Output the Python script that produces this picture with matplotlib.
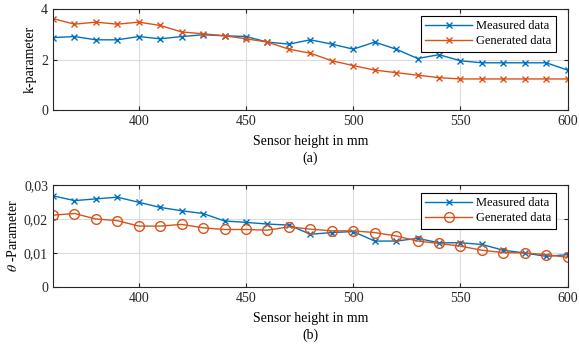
import matplotlib.pyplot as plt
import matplotlib.ticker as mticker
import numpy as np

plt.rcParams['font.family'] = ['Liberation Serif', 'DejaVu Serif']
plt.rcParams['font.size'] = 10
plt.rcParams['mathtext.fontset'] = 'stix'

height = np.arange(360, 601, 10)

k_measured = [2.87, 2.91, 2.78, 2.78, 2.91, 2.82, 2.91, 2.98, 2.94, 2.91, 2.69, 2.61,
              2.78, 2.61, 2.41, 2.69, 2.41, 2.04, 2.19, 1.95, 1.87, 1.87, 1.87, 1.87, 1.58]
k_generated = [3.62, 3.40, 3.48, 3.40, 3.48, 3.35, 3.09, 3.02, 2.94, 2.82, 2.69, 2.41,
               2.25, 1.95, 1.76, 1.58, 1.48, 1.38, 1.28, 1.23, 1.23, 1.23, 1.23, 1.23, 1.23]

theta_measured = [0.0268, 0.0254, 0.0259, 0.0264, 0.0249, 0.0234, 0.0224, 0.0216, 0.0194,
                  0.0190, 0.0185, 0.0182, 0.0155, 0.0160, 0.0163, 0.0135, 0.0135, 0.0143,
                  0.0130, 0.0130, 0.0125, 0.0108, 0.0100, 0.0090, 0.0095]
theta_generated = [0.0211, 0.0216, 0.0200, 0.0195, 0.0179, 0.0179, 0.0184, 0.0174, 0.0169,
                   0.0169, 0.0167, 0.0177, 0.0170, 0.0165, 0.0165, 0.0160, 0.0150, 0.0135,
                   0.0128, 0.0120, 0.0108, 0.0101, 0.0100, 0.0095, 0.0087]

blue = '#0072BD'
orange = '#D95319'

fig = plt.figure(figsize=(5.79, 3.47), dpi=100)
ax1 = fig.add_axes([0.0915, 0.683, 0.889, 0.291])
ax2 = fig.add_axes([0.0915, 0.173, 0.889, 0.294])

ax1.plot(height, k_measured, '-x', color=blue, lw=1, ms=5, label='Measured data')
ax1.plot(height, k_generated, '-x', color=orange, lw=1, ms=5, label='Generated data')
ax1.set_ylim(0, 4)
ax1.set_yticks([0, 2, 4])
ax1.set_ylabel('k-parameter', labelpad=3)

ax2.plot(height, theta_measured, '-x', color=blue, lw=1, ms=5, label='Measured data')
ax2.plot(height, theta_generated, '-o', color=orange, lw=1, ms=7, mfc='none',
         label='Generated data')
ax2.set_ylim(0, 0.03)
ax2.set_yticks([0, 0.01, 0.02, 0.03])
ax2.yaxis.set_major_formatter(mticker.FuncFormatter(
    lambda v, p: '0' if v == 0 else f'{v:.2f}'.replace('.', ',')))
ax2.set_ylabel(r'$\theta$ -Parameter', labelpad=3)

for ax, tag, ly in [(ax1, '(a)', 0.931), (ax2, '(b)', 0.922)]:
    ax.set_xlim(360, 600)
    ax.set_xticks([400, 450, 500, 550, 600])
    ax.grid(True, color='#dcdcdc', lw=0.8)
    ax.set_axisbelow(True)
    ax.tick_params(direction='in', top=True, right=True, length=3, colors='#262626',
                   labelcolor='#262626', labelsize=10)
    for s in ax.spines.values():
        s.set_color('#262626')
        s.set_linewidth(0.8)
    ax.set_xlabel('Sensor height in mm\n' + tag, labelpad=5, linespacing=1.4)
    leg = ax.legend(loc='upper right', bbox_to_anchor=(0.977, ly), fontsize=9,
                    fancybox=False, edgecolor='black', framealpha=1,
                    borderaxespad=0, handlelength=3.8, handletextpad=0.3,
                    borderpad=0.35, labelspacing=0.25)
    leg.get_frame().set_linewidth(0.8)

fig.savefig('out.png', dpi=100)
